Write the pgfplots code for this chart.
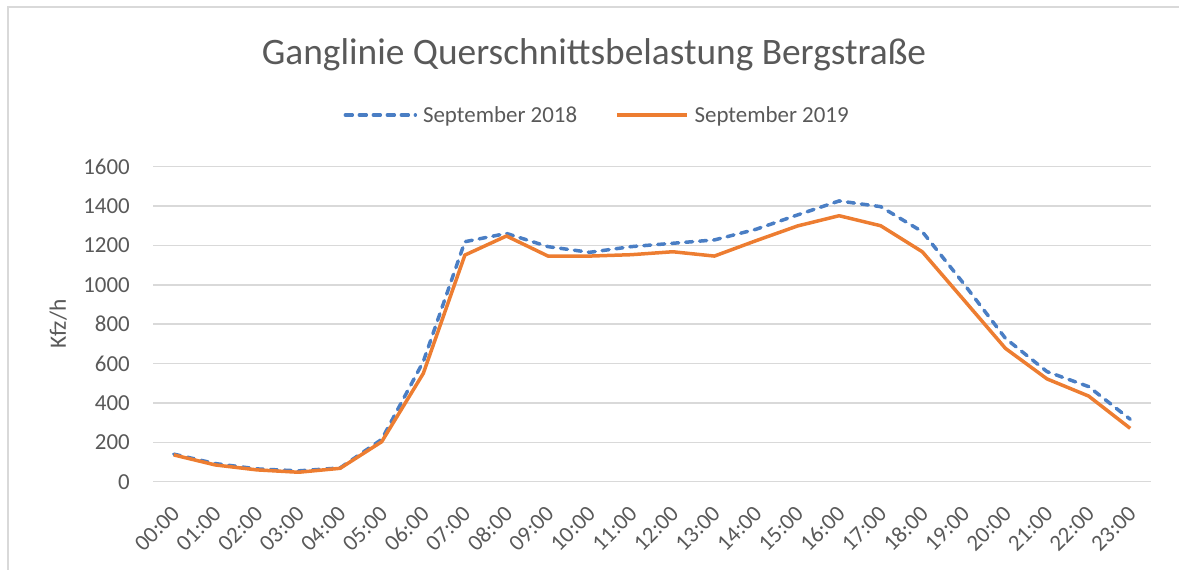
\documentclass[border=0pt]{standalone}
\usepackage{pgfplots}
\pgfplotsset{compat=1.18}
\usepackage{fontspec}
\setmainfont{Carlito}
\definecolor{txt}{HTML}{595959}
\definecolor{gridc}{HTML}{D9D9D9}
\definecolor{cblue}{HTML}{4A7EC4}
\definecolor{corange}{HTML}{ED7D31}
\begin{document}
\begin{tikzpicture}
\path[use as bounding box] (0bp,0bp) rectangle (1179bp,570bp);
\draw[gridc, line width=1.5bp] (8bp,0bp) -- (8bp,563bp) -- (1179bp,563bp);
\node[txt, font=\fontsize{37.5}{42}\selectfont] at (594bp,515bp) {Ganglinie Querschnittsbelastung Bergstraße};
\begin{axis}[
  at={(153bp,88.3bp)}, anchor=south west,
  width=998bp, height=315bp, scale only axis,
  xmin=-0.5, xmax=23.5, ymin=0, ymax=1600,
  ytick={0,200,...,1600},
  xtick={0,...,23},
  xticklabels={00:00,01:00,02:00,03:00,04:00,05:00,06:00,07:00,08:00,09:00,10:00,11:00,12:00,13:00,14:00,15:00,16:00,17:00,18:00,19:00,20:00,21:00,22:00,23:00},
  ymajorgrids, grid style={gridc, line width=1.5bp},
  axis line style={draw=none}, major tick style={draw=none},
  /pgf/number format/assume math mode=true,
  /pgf/number format/1000 sep={},
  ticklabel style={txt, font=\fontsize{23}{27}\selectfont},
  yticklabel style={anchor=east, inner sep=0pt, xshift=-23bp},
  xticklabel style={inner sep=0pt, xshift=2bp, yshift=-28bp, rotate=45, anchor=east},
  ylabel={Kfz/h},
  ylabel style={txt, font=\fontsize{23.5}{27}\selectfont, at={(axis description cs:-0.095,0.5)}, anchor=center, rotate=0},
  legend columns=2,
  legend style={at={(axis description cs:0.445,1.164)}, anchor=center, draw=none, fill=none,
    font=\fontsize{23}{27}\selectfont, text=txt,
    /tikz/every odd column/.append style={column sep=4bp},
    /tikz/every even column/.append style={column sep=36bp}},
  legend image code/.code={\draw[#1] (0bp,0bp) -- (70bp,0bp);},
]
\addplot[cblue, line width=3.5bp, line cap=round, dash pattern=on 7bp off 7bp] coordinates {
(0,140)(1,92)(2,65)(3,55)(4,70)(5,215)(6,610)(7,1219)(8,1261)(9,1194)(10,1165)(11,1194)(12,1211)(13,1228)(14,1282)(15,1355)(16,1426)(17,1397)(18,1270)(19,1005)(20,728)(21,559)(22,483)(23,317)};
\addlegendentry{September 2018}
\addplot[corange, line width=3.5bp, line join=round] coordinates {
(0,136)(1,85)(2,60)(3,48)(4,68)(5,203)(6,550)(7,1151)(8,1248)(9,1146)(10,1146)(11,1153)(12,1168)(13,1146)(14,1224)(15,1299)(16,1351)(17,1300)(18,1168)(19,923)(20,677)(21,522)(22,435)(23,271)};
\addlegendentry{September 2019}
\end{axis}
\end{tikzpicture}
\end{document}
